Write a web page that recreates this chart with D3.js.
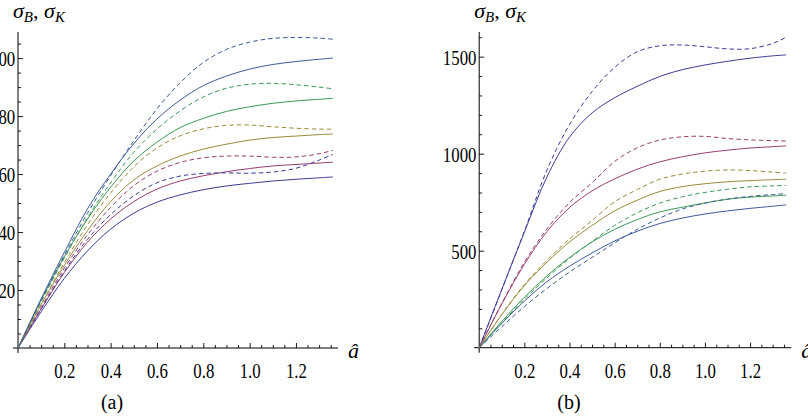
<!DOCTYPE html>
<html>
<head>
<meta charset="utf-8">
<script src="https://cdn.jsdelivr.net/npm/d3@7/dist/d3.min.js"></script>
<style>
  body { margin: 0; background: #fff; }
  svg { display: block; }
  .tick text { font-family: "Liberation Serif", "Times New Roman", Times, serif; font-size: 21px; fill: #000; }
  .tick line { stroke: #000; stroke-width: 0.9px; }
  .axisline { stroke: #000; stroke-width: 1px; }
  .curve { fill: none; stroke-width: 1px; }
  .lbl { font-family: "Liberation Serif", "Times New Roman", Times, serif; fill: #000; }
</style>
</head>
<body>
<svg width="808" height="416"></svg>
<script>
// abscissa samples (a-hat)
const aHat = [0, 0.1, 0.2, 0.3, 0.4, 0.5, 0.6, 0.7, 0.8, 0.9, 1.0, 1.1, 1.2, 1.3, 1.36];

// panel (a): sigma_B (solid) and sigma_K (dashed), five cases
const a1Solid  = [0, 12.5, 24, 33.5, 41, 46.5, 50.3, 52.8, 54.6, 55.9, 56.8, 57.6, 58.2, 58.7, 59];
const a1Dashed = [0, 13.5, 26.5, 37.5, 46, 52.5, 57, 59.3, 60.2, 60.4, 60.3, 60.7, 62, 64.8, 66.8];
const a2Solid  = [0, 13.5, 26, 36.5, 44.5, 50.5, 54.8, 57.6, 59.4, 60.8, 61.9, 62.8, 63.3, 63.8, 64.1];
const a2Dashed = [0, 14, 27.5, 39, 48.5, 56, 61, 64, 65.6, 66.2, 66.2, 65.8, 65.9, 67, 68.2];
const a3Solid  = [0, 15, 28.5, 40.5, 50.5, 58, 62.8, 66.2, 68.6, 70.3, 71.7, 72.6, 73.1, 73.6, 73.8];
const a3Dashed = [0, 15, 29.5, 42.5, 53.5, 62.5, 69, 73.2, 75.6, 76.8, 76.9, 76.3, 75.8, 75.5, 75.5];
const a4Solid  = [0, 16.5, 31.5, 44.5, 55.5, 64.5, 71, 76, 79.2, 81.6, 83.2, 84.4, 85.2, 85.8, 86.1];
const a4Dashed = [0, 16, 31, 45, 57, 67.5, 75.5, 81.8, 86.6, 89.6, 91, 91.3, 90.8, 90, 89.4];
const a5Solid  = [0, 17, 33, 48, 60, 70.5, 79, 85.5, 90.5, 93.8, 96.2, 97.8, 98.8, 99.6, 100];
const a5Dashed = [0, 16.5, 32, 46.5, 59.5, 71.5, 82.5, 91.5, 98.5, 103, 105.5, 106.8, 107.1, 106.9, 106.5];

// panel (b)
const b1Solid  = [0, 300, 595, 880, 1085, 1210, 1288, 1347, 1398, 1433, 1457, 1476, 1492, 1504, 1509];
const b1Dashed = [0, 298, 600, 915, 1150, 1320, 1445, 1525, 1556, 1560, 1551, 1540, 1541, 1568, 1600];
const b2Solid  = [0, 225, 430, 598, 722, 808, 870, 920, 958, 984, 1004, 1018, 1029, 1036, 1040];
const b2Dashed = [0, 228, 440, 612, 748, 850, 960, 1030, 1070, 1087, 1089, 1078, 1071, 1067, 1065];
const b3Solid  = [0, 170, 320, 440, 545, 630, 705, 760, 805, 830, 845, 855, 861, 866, 868];
const b3Dashed = [0, 172, 325, 450, 560, 655, 752, 815, 868, 895, 910, 916, 913, 905, 900];
const b4Solid  = [0, 135, 260, 370, 465, 545, 610, 660, 700, 724, 746, 765, 776, 782, 786];
const b4Dashed = [0, 128, 250, 360, 460, 548, 630, 695, 745, 778, 800, 817, 829, 834, 836];
const b5Solid  = [0, 125, 240, 340, 420, 488, 550, 600, 640, 668, 689, 705, 718, 729, 736];
const b5Dashed = [0, 108, 212, 305, 390, 465, 540, 610, 668, 715, 745, 766, 780, 789, 794];

const seriesColors = ["#3d3d99", "#993d71", "#998b3d", "#3d9954", "#3d5a99"];

const panels = [
  {
    tag: "(a)", tagX: 112,
    xRange: [18, 333], yRange: [348, 32], yMax: 109,
    yMajor: [20, 40, 60, 80, 100], yMinorStep: 5,
    solid: [a1Solid, a2Solid, a3Solid, a4Solid, a5Solid],
    dashed: [a1Dashed, a2Dashed, a3Dashed, a4Dashed, a5Dashed]
  },
  {
    tag: "(b)", tagX: 569,
    xRange: [479.2, 786.2], yRange: [347.7, 32], yMax: 1627,
    yMajor: [500, 1000, 1500], yMinorStep: 100,
    solid: [b1Solid, b2Solid, b3Solid, b4Solid, b5Solid],
    dashed: [b1Dashed, b2Dashed, b3Dashed, b4Dashed, b5Dashed]
  }
];

const xMajor = [0.2, 0.4, 0.6, 0.8, 1.0, 1.2];
const xMinor = d3.range(1, 28).map(i => i * 0.05).filter(v => Math.abs(v * 5 - Math.round(v * 5)) > 1e-6);

const svg = d3.select("svg");

panels.forEach(p => {
  const x = d3.scaleLinear().domain([0, 1.36]).range(p.xRange);
  const y = d3.scaleLinear().domain([0, p.yMax]).range(p.yRange);
  const g = svg.append("g");
  const x0 = x(0), y0 = y(0);

  // axis lines
  g.append("line").attr("class", "axisline")
    .attr("x1", x0 - 5).attr("x2", x(1.36) + 5).attr("y1", y0).attr("y2", y0);
  g.append("line").attr("class", "axisline")
    .attr("x1", x0).attr("x2", x0).attr("y1", y0 + 5).attr("y2", y(p.yMax));

  // x ticks (pointing inward)
  g.append("g").attr("transform", `translate(0,${y0})`)
    .call(d3.axisBottom(x).tickValues(xMinor).tickSize(-3).tickFormat(""))
    .call(s => s.select(".domain").remove());
  g.append("g").attr("transform", `translate(0,${y0})`)
    .call(d3.axisBottom(x).tickValues(xMajor).tickSize(-5).tickFormat(d3.format(".1f")))
    .call(s => s.select(".domain").remove())
    .call(s => s.selectAll("text").attr("y", 30).attr("dy", 0)
      .attr("transform", "scale(0.8,1)"));

  // y ticks
  const yMinor = d3.range(p.yMinorStep, p.yMax, p.yMinorStep)
    .filter(v => !p.yMajor.includes(v));
  g.append("g").attr("transform", `translate(${x0},0)`)
    .call(d3.axisLeft(y).tickValues(yMinor).tickSize(-3).tickFormat(""))
    .call(s => s.select(".domain").remove());
  g.append("g").attr("transform", `translate(${x0},0)`)
    .call(d3.axisLeft(y).tickValues(p.yMajor).tickSize(-5).tickPadding(3.5).tickFormat(d3.format("d")))
    .call(s => s.select(".domain").remove())
    .call(s => s.selectAll("text").attr("dy", "0.37em")
      .attr("transform", "scale(0.8,1)"));

  // curves
  const line = d3.line()
    .x((d, i) => x(aHat[i]))
    .y(d => y(d))
    .curve(d3.curveCatmullRom.alpha(0.5));

  p.solid.forEach((vals, k) => {
    g.append("path").attr("class", "curve")
      .attr("stroke", seriesColors[k])
      .attr("d", line(vals));
  });
  p.dashed.forEach((vals, k) => {
    g.append("path").attr("class", "curve")
      .attr("stroke", seriesColors[k])
      .attr("stroke-dasharray", "4.5,3")
      .attr("d", line(vals));
  });

  // axis titles
  const yl = g.append("text").attr("class", "lbl")
    .attr("x", x0 - 5).attr("y", 18).style("font-size", "22px");
  yl.append("tspan").style("font-style", "italic").text("σ");
  yl.append("tspan").attr("dy", 4).style("font-style", "italic").style("font-size", "15px").text("B");
  yl.append("tspan").attr("dy", -4).text(", ");
  yl.append("tspan").style("font-style", "italic").text("σ");
  yl.append("tspan").attr("dy", 4).style("font-style", "italic").style("font-size", "15px").text("K");

  g.append("text").attr("class", "lbl")
    .attr("x", x(1.36) + 15).attr("y", 358)
    .style("font-size", "22px").style("font-style", "italic")
    .text("â");

  g.append("text").attr("class", "lbl")
    .attr("x", p.tagX).attr("y", 409)
    .attr("text-anchor", "middle")
    .style("font-size", "20px")
    .text(p.tag);
});
</script>
</body>
</html>
